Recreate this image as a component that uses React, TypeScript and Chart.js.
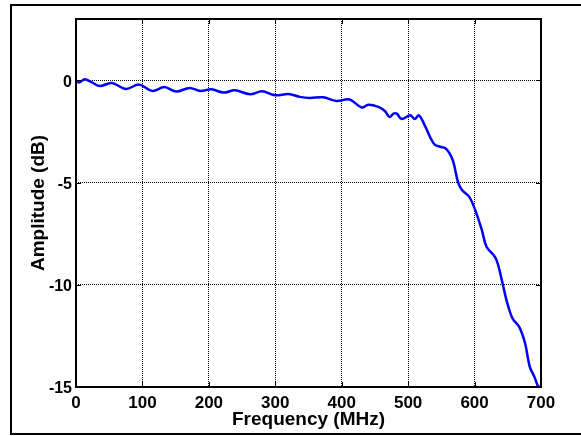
import React, { useEffect, useRef } from "react";
import { Chart, registerables } from "chart.js";

Chart.register(...registerables);

const freqMHz = [0, 5, 13, 24, 36, 54, 75, 95, 115, 133, 151, 171, 187, 204, 222, 239, 262, 280, 300, 320, 337, 352, 372, 392, 412, 430, 440, 455, 465, 472, 478, 483, 490, 503, 510, 516, 525, 533, 540, 548, 556, 562, 568, 575, 581, 592, 601, 611, 618, 632, 641, 648, 657, 667, 676, 683, 690, 696, 700];
const amplitudeDb = [-0.03, -0.1, 0.05, -0.1, -0.28, -0.13, -0.42, -0.21, -0.52, -0.33, -0.55, -0.37, -0.52, -0.44, -0.6, -0.49, -0.68, -0.54, -0.73, -0.67, -0.81, -0.86, -0.83, -1.01, -0.94, -1.33, -1.2, -1.3, -1.5, -1.79, -1.63, -1.63, -1.89, -1.71, -1.89, -1.71, -2.2, -2.77, -3.15, -3.25, -3.32, -3.55, -3.99, -4.97, -5.37, -5.7, -6.35, -7.33, -8.14, -8.71, -9.77, -10.75, -11.64, -12.05, -12.86, -14.0, -14.5, -14.98, -15];

const xTicks = [0, 100, 200, 300, 400, 500, 600, 700];
const yTicks = [-15, -10, -5, 0];

const FONT = "'Liberation Sans', Arial, Helvetica, sans-serif";

const framePlugin = {
  id: "framePlugin",
  afterDraw(chart: any) {
    const ctx = chart.ctx;
    const { left, right, top, bottom } = chart.chartArea;
    ctx.save();
    // outer figure frame
    ctx.strokeStyle = "#000";
    ctx.lineWidth = 2;
    ctx.beginPath();
    ctx.moveTo(590, 5);
    ctx.lineTo(11, 5);
    ctx.lineTo(11, 434);
    ctx.lineTo(590, 434);
    ctx.stroke();
    // inner ticks
    ctx.lineWidth = 1;
    const xs = chart.scales.x;
    const ys = chart.scales.y;
    ctx.beginPath();
    xs.ticks.forEach((t: any) => {
      const px = Math.round(xs.getPixelForValue(t.value)) + 0.5;
      ctx.moveTo(px, bottom);
      ctx.lineTo(px, bottom - 5);
      ctx.moveTo(px, top);
      ctx.lineTo(px, top + 5);
    });
    ys.ticks.forEach((t: any) => {
      const py = Math.round(ys.getPixelForValue(t.value)) + 0.5;
      ctx.moveTo(left, py);
      ctx.lineTo(left + 5, py);
      ctx.moveTo(right, py);
      ctx.lineTo(right - 5, py);
    });
    ctx.stroke();
    // axes box
    ctx.lineWidth = 2;
    ctx.strokeRect(left, top, right - left, bottom - top);
    ctx.restore();
  },
};

export default function App() {
  const ref = useRef<HTMLCanvasElement | null>(null);
  useEffect(() => {
    if (!ref.current) return;
    const chart = new Chart(ref.current, {
      type: "line",
      data: {
        datasets: [
          {
            data: freqMHz.map((f, i) => ({ x: f, y: amplitudeDb[i] })),
            borderColor: "#0000ff",
            borderWidth: 2.5,
            pointRadius: 0,
            tension: 0.35,
            fill: false,
          },
        ],
      },
      options: {
        animation: false,
        responsive: false,
        maintainAspectRatio: false,
        layout: { padding: { left: 0, right: 40, top: 19, bottom: 0 } },
        plugins: { legend: { display: false }, tooltip: { enabled: false } },
        scales: {
          x: {
            type: "linear",
            min: 0,
            max: 700,
            afterBuildTicks: (s: any) => {
              s.ticks = xTicks.map((v) => ({ value: v }));
            },
            afterFit: (s: any) => {
              s.height = 49;
            },
            grid: { color: "#000", lineWidth: 1, drawTicks: false },
            border: { display: false, dash: [1, 1] },
            ticks: {
              color: "#000",
              padding: 6,
              maxRotation: 0,
              autoSkip: false,
              font: { family: FONT, size: 17, weight: "bold" },
            },
            title: {
              display: true,
              text: "Frequency (MHz)",
              color: "#000",
              font: { family: FONT, size: 19, weight: "bold" },
              padding: { top: 0, bottom: 4.5 },
            },
          },
          y: {
            type: "linear",
            min: -15,
            max: 3,
            afterBuildTicks: (s: any) => {
              s.ticks = yTicks.map((v) => ({ value: v }));
            },
            afterFit: (s: any) => {
              s.width = 76;
            },
            grid: { color: "#000", lineWidth: 1, drawTicks: false },
            border: { display: false, dash: [1, 1] },
            ticks: {
              color: "#000",
              padding: 4,
              labelOffset: 2,
              font: { family: FONT, size: 16, weight: "bold" },
            },
            title: {
              display: true,
              text: "Amplitude (dB)",
              color: "#000",
              font: { family: FONT, size: 19, weight: "bold" },
              padding: { top: 27, bottom: 0 },
            },
          },
        },
      },
      plugins: [framePlugin],
    });
    return () => chart.destroy();
  }, []);
  return (
    <div style={{ position: "absolute", left: 0, top: 0, width: 581, height: 436, background: "#fff" }}>
      <canvas ref={ref} width={581} height={436} style={{ display: "block" }} />
    </div>
  );
}
